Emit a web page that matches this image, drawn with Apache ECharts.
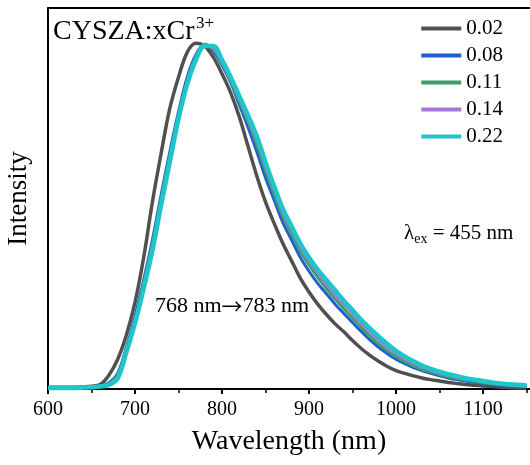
<!DOCTYPE html>
<html>
<head>
<meta charset="utf-8">
<script src="https://cdn.jsdelivr.net/npm/echarts@6/dist/echarts.min.js"></script>
<style>html,body{margin:0;padding:0;background:#fff;}#c{width:530px;height:465px;}</style>
</head>
<body>
<div id="c"></div>
<script>
const wavelengths = [600,610,620,630,640,650,660,670,680,690,700,710,720,730,740,750,760,770,780,790,800,810,820,830,840,850,860,870,880,890,900,910,920,930,940,950,960,970,980,990,1000,1010,1020,1030,1040,1050,1060,1070,1080,1090,1100,1110,1120,1130,1140,1150];
const seriesNames = ['0.02','0.08','0.11','0.14','0.22'];
const s002 = [.005,.005,.005,.005,.006,.008,.013,.04,.085,.155,.25,.38,.54,.68,.81,.90,.972,.998,.99,.958,.91,.855,.785,.70,.615,.54,.478,.42,.37,.32,.28,.245,.215,.188,.165,.14,.117,.097,.08,.065,.053,.045,.038,.032,.027,.023,.019,.016,.013,.011,.009,.007,.005,.004,.003,.003];
const s008 = [.004,.004,.004,.004,.005,.006,.009,.018,.045,.12,.21,.315,.43,.56,.685,.80,.90,.965,.995,.975,.935,.885,.82,.755,.685,.61,.545,.48,.43,.38,.34,.305,.275,.245,.218,.192,.166,.142,.12,.102,.086,.073,.062,.053,.045,.038,.032,.027,.023,.019,.016,.013,.011,.009,.008,.007];
const s011 = [.004,.004,.004,.004,.005,.006,.008,.016,.04,.115,.20,.305,.42,.55,.675,.79,.89,.96,.995,.98,.94,.89,.83,.77,.705,.63,.562,.498,.448,.398,.358,.322,.29,.26,.232,.205,.178,.153,.13,.11,.093,.079,.067,.057,.049,.042,.035,.03,.026,.022,.018,.015,.013,.011,.009,.008];
const s014 = [.004,.004,.004,.004,.005,.006,.008,.014,.035,.11,.195,.298,.41,.54,.665,.785,.885,.955,.992,.985,.945,.895,.838,.78,.718,.643,.575,.51,.46,.41,.37,.335,.303,.273,.245,.218,.19,.165,.142,.12,.102,.087,.074,.063,.054,.046,.04,.034,.029,.025,.021,.018,.015,.012,.01,.009];
const s022 = [.003,.003,.003,.003,.004,.005,.007,.012,.03,.105,.19,.29,.40,.53,.655,.78,.88,.95,.99,.99,.95,.90,.845,.79,.73,.655,.585,.52,.47,.42,.38,.345,.315,.285,.255,.228,.20,.175,.152,.13,.11,.094,.08,.068,.058,.05,.043,.037,.031,.027,.023,.019,.016,.014,.012,.01];
const xTicks = [600,700,800,900,1000,1100];

const allSeries = [s002,s008,s011,s014,s022];
const colors = ['#505050','#1f5fcf','#3a9f68','#a577dd','#1cc6c9'];
const widths = [3.5,3,3,3,4.5];
const font = '"Liberation Serif","Times New Roman",serif';

const chart = echarts.init(document.getElementById('c'));
chart.setOption({
  animation:false,
  backgroundColor:'#fff',
  grid:{left:48,top:8,right:0,bottom:76,containLabel:false,outerBoundsMode:'none'},
  legend:{
    orient:'vertical', right:22, top:13,
    icon:'rect', itemWidth:40, itemHeight:4, itemGap:6,
    data:seriesNames,
    textStyle:{fontFamily:font,fontSize:21,lineHeight:21,color:'#000'}
  },
  xAxis:[{
    type:'value', min:600, max:1154, interval:100,
    name:'Wavelength (nm)', nameLocation:'middle', nameGap:39,
    nameTextStyle:{fontFamily:font,fontSize:28,color:'#000'},
    axisLine:{onZero:false,lineStyle:{color:'#000',width:2}},
    axisTick:{show:true,inside:false,length:5,lineStyle:{color:'#000',width:2},customValues:xTicks},
    minorTick:{show:true,splitNumber:2,length:4,lineStyle:{color:'#000',width:1.5}},
    axisLabel:{fontFamily:font,fontSize:20,color:'#000',margin:11,customValues:xTicks,formatter:v=>String(v)},
    splitLine:{show:false}
  },{
    type:'value', position:'top', min:600, max:1154,
    axisLine:{onZero:false,lineStyle:{color:'#000',width:2}},
    axisTick:{show:false}, axisLabel:{show:false}, splitLine:{show:false}
  }],
  yAxis:{
    type:'value', min:0, max:1.1,
    name:'Intensity', nameLocation:'middle', nameGap:16,
    nameTextStyle:{fontFamily:font,fontSize:27,color:'#000'},
    axisLine:{show:true,onZero:false,lineStyle:{color:'#000',width:2}},
    axisTick:{show:false}, axisLabel:{show:false}, splitLine:{show:false}
  },
  series: allSeries.map((arr,i)=>({
    name:seriesNames[i], type:'line', xAxisIndex:0, symbol:'none', smooth:0.35,
    data: wavelengths.map((w,j)=>[w,arr[j]]),
    lineStyle:{color:colors[i],width:widths[i]},
    itemStyle:{color:colors[i]}
  })),
  graphic:[
    {type:'text', left:53, top:18, style:{
      text:'CYSZA:xCr', fontFamily:font, fontSize:28, fill:'#000'
    }},
    {type:'text', left:196, top:15, style:{
      text:'3+', fontFamily:font, fontSize:17, fill:'#000'
    }},
    {type:'text', left:404, top:223, style:{
      text:'{a|λ}{s|ex}{a| = 455 nm}',
      rich:{a:{fontFamily:font,fontSize:21,fill:'#000'},
            s:{fontFamily:font,fontSize:14,fill:'#000',padding:[12,0,0,0]}}
    }},
    {type:'text', left:155, top:295, style:{
      text:'{a|768 nm}{r|→}{a|783 nm}',
      rich:{a:{fontFamily:font,fontSize:22,fill:'#000'},
            r:{fontFamily:'"Noto Sans CJK SC"',fontSize:21,fill:'#000'}}
    }}
  ]
});
</script>
</body>
</html>
